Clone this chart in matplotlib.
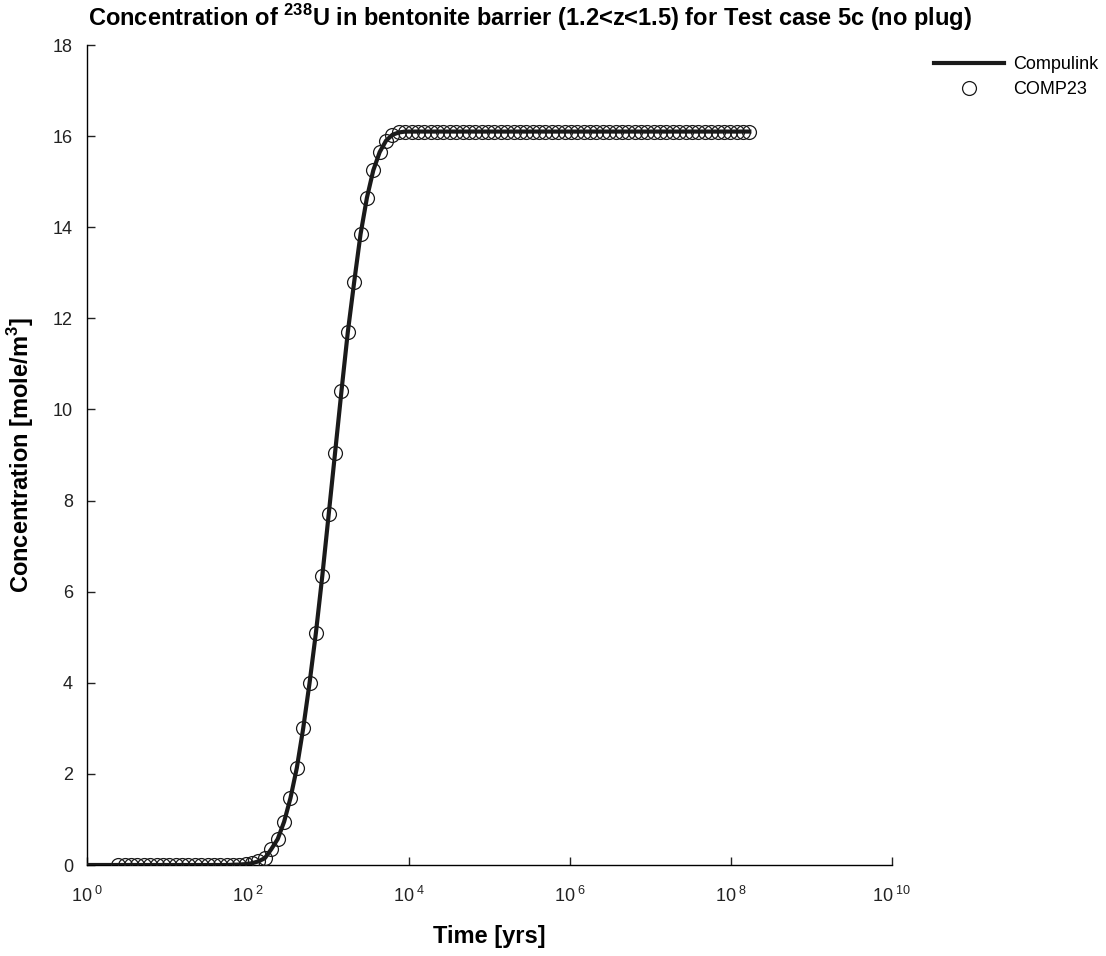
import numpy as np
import matplotlib
matplotlib.use("Agg")
from matplotlib import pyplot as plt
from matplotlib.ticker import FixedLocator, FuncFormatter

plt.rcParams['font.family'] = ['Liberation Sans', 'DejaVu Sans']
plt.rcParams['mathtext.fontset'] = 'custom'
plt.rcParams['mathtext.rm'] = 'Liberation Sans'
plt.rcParams['mathtext.bf'] = 'Liberation Sans:bold'

# COMP23 sample times [yrs] and concentrations
comp23_t = [2.45, 2.94, 3.53, 4.23, 5.08, 6.10, 7.32, 8.78, 10.5, 12.6,
            15.2, 18.2, 21.8, 26.2, 31.5, 37.8, 45.3, 54.4, 65.3, 78.3,
            94.0, 113, 135, 162, 195, 234, 281, 337, 404, 485,
            582, 698, 838, 1006, 1207, 1448, 1738, 2085, 2502, 3003,
            3603, 4324, 5189, 6227, 7472, 8966, 1.08e4, 1.29e4, 1.55e4, 1.86e4,
            2.23e4, 2.68e4, 3.21e4, 3.86e4, 4.63e4, 5.55e4, 6.66e4, 8.00e4, 9.60e4, 1.15e5,
            1.38e5, 1.66e5, 1.99e5, 2.39e5, 2.87e5, 3.44e5, 4.13e5, 4.95e5, 5.94e5, 7.13e5,
            8.56e5, 1.03e6, 1.23e6, 1.48e6, 1.77e6, 2.13e6, 2.55e6, 3.07e6, 3.68e6, 4.41e6,
            5.30e6, 6.36e6, 7.63e6, 9.15e6, 1.10e7, 1.32e7, 1.58e7, 1.90e7, 2.28e7, 2.73e7,
            3.28e7, 3.94e7, 4.72e7, 5.67e7, 6.80e7, 8.16e7, 9.80e7, 1.18e8, 1.41e8, 1.69e8]
comp23_c = [0.0] * 18 + [0.005, 0.01, 0.02, 0.04, 0.08, 0.15, 0.35, 0.57, 0.95, 1.47,
                         2.13, 3.0, 4.0, 5.1, 6.35, 7.7, 9.05, 10.4, 11.7, 12.8,
                         13.85, 14.65, 15.25, 15.65, 15.9, 16.03, 16.08, 16.1]
comp23_c = comp23_c + [16.1] * (len(comp23_t) - len(comp23_c))

# Compulink curve
link_t = [1.0] + comp23_t
link_c = [0.0] + comp23_c

xticks = [1, 1e2, 1e4, 1e6, 1e8, 1e10]
yticks = [0, 2, 4, 6, 8, 10, 12, 14, 16, 18]

fig = plt.figure(figsize=(11.06, 9.56), dpi=100)
ax = fig.add_axes([87 / 1106, 91 / 956, (892 - 87) / 1106, (865 - 45) / 956])

ax.plot(link_t, link_c, color='#1a1a1a', linewidth=3.0, label='Compulink', zorder=3)
ax.plot(comp23_t, comp23_c, linestyle='none', marker='o', markersize=10,
        markerfacecolor='none', markeredgecolor='#1a1a1a', markeredgewidth=0.9,
        label='COMP23', zorder=4)

ax.set_xscale('log')
ax.set_xlim(1, 1e10)
ax.set_ylim(0, 18)
ax.xaxis.set_major_locator(FixedLocator(xticks))
ax.xaxis.set_minor_locator(FixedLocator([]))
ax.xaxis.set_major_formatter(FuncFormatter(lambda v, p: r'$10^{\;%d}$' % round(np.log10(v))))
ax.set_yticks(yticks)

for s in ['top', 'right']:
    ax.spines[s].set_visible(False)
for s in ['left', 'bottom']:
    ax.spines[s].set_linewidth(1.0)
ax.tick_params(direction='in', length=6, width=1.0, labelsize=13, colors='#222222')
ax.tick_params(axis='x', pad=15)
ax.tick_params(axis='y', pad=10)

ax.set_xlabel('Time [yrs]', fontsize=17, fontweight='bold', labelpad=14)
ax.set_ylabel(r'Concentration [mole/m$^\mathbf{3}$]', fontsize=17, fontweight='bold', labelpad=12)

fig.text(530 / 1106, 1 - 18 / 956,
         r'Concentration of $^\mathbf{238}$U in bentonite barrier (1.2<z<1.5) for Test case 5c (no plug)',
         ha='center', va='center', fontsize=17, fontweight='bold')

fig.legend(loc='upper left', bbox_to_anchor=(934 / 1106, 1 - 56 / 956), frameon=False,
           borderpad=0, borderaxespad=0, handlelength=3.9, handletextpad=0.5,
           labelspacing=0.45, fontsize=13)

fig.savefig('out.png', dpi=100)
